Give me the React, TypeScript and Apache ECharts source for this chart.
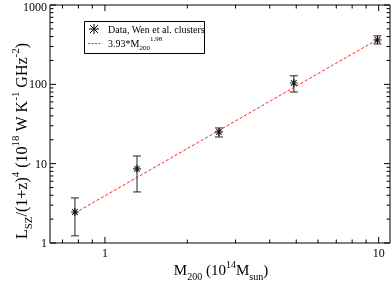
import React, { useEffect, useRef } from "react";
import * as echarts from "echarts";

// ---- data ----
const mass = [0.777, 1.31, 2.61, 4.9, 9.9];
const lsz = [2.46, 8.6, 25.1, 104, 363];
const errLow = [1.23, 4.4, 21.7, 80, 323];
const errHigh = [3.7, 12.5, 28.2, 128, 408];

const fitX = [0.777, 9.9];
const fitY = [2.39, 367];

const xMajorTicks = [1, 10];
const xMinorTicks = [0.7, 0.8, 0.9, 2, 3, 4, 5, 6, 7, 8, 9];
const yMajorTicks = [1, 10, 100, 1000];
const yMinorTicks = [2, 3, 4, 5, 6, 7, 8, 9, 20, 30, 40, 50, 60, 70, 80, 90, 200, 300, 400, 500, 600, 700, 800, 900];

const X_MIN = 0.63;
const X_MAX = 11;
const Y_MIN = 1;
const Y_MAX = 1000;

const FONT = "Liberation Serif";

const asteriskPath = "path://M0,5L10,5M5,0L5,10M1.5,1.5L8.5,8.5M1.5,8.5L8.5,1.5";

export default function App() {
  const ref = useRef<HTMLDivElement>(null);

  useEffect(() => {
    if (!ref.current) return;
    const chart = echarts.init(ref.current, undefined, { renderer: "svg" });

    const xTickData = [
      ...xMajorTicks.map((v) => [v, Y_MIN, 1]),
      ...xMinorTicks.map((v) => [v, Y_MIN, 0]),
    ];
    const yTickData = [
      ...yMajorTicks.map((v) => [X_MIN, v, 1]),
      ...yMinorTicks.map((v) => [X_MIN, v, 0]),
    ];

    const tickStyle = { stroke: "#000", lineWidth: 1 };

    const option: any = {
      animation: false,
      grid: {
        left: 50,
        right: 2,
        top: 5,
        bottom: 39,
        show: true,
        borderColor: "#000",
        borderWidth: 1,
        backgroundColor: "transparent",
      },
      xAxis: {
        type: "log",
        logBase: 10,
        min: X_MIN,
        max: X_MAX,
        axisLine: { show: false },
        axisTick: { show: false },
        axisLabel: { show: false },
        splitLine: { show: false },
      },
      yAxis: {
        type: "log",
        logBase: 10,
        min: Y_MIN,
        max: Y_MAX,
        axisLine: { show: false },
        axisTick: { show: false },
        axisLabel: { show: false },
        splitLine: { show: false },
      },
      graphic: [
        {
          type: "rect",
          shape: { x: 84.5, y: 21.5, width: 120, height: 32 },
          style: { fill: "#fff", stroke: "#000", lineWidth: 1 },
          z: 100,
        },
        {
          type: "polyline",
          shape: { points: [[90, 25], [98, 33]] },
          style: { stroke: "#000", lineWidth: 1 },
          z: 101,
        },
        {
          type: "polyline",
          shape: { points: [[90, 33], [98, 25]] },
          style: { stroke: "#000", lineWidth: 1 },
          z: 101,
        },
        {
          type: "polyline",
          shape: { points: [[89, 29], [99, 29]] },
          style: { stroke: "#000", lineWidth: 1 },
          z: 101,
        },
        {
          type: "polyline",
          shape: { points: [[94, 24], [94, 34]] },
          style: { stroke: "#000", lineWidth: 1 },
          z: 101,
        },
        {
          type: "text",
          x: 108,
          y: 29,
          style: {
            text: "Data, Wen et al. clusters",
            font: `10px "${FONT}"`,
            fill: "#000",
            verticalAlign: "middle",
            align: "left",
          },
          z: 101,
        },
        {
          type: "line",
          shape: { x1: 88, y1: 43.5, x2: 101, y2: 43.5 },
          style: { stroke: "#ff2020", lineWidth: 1, lineDash: [2, 1.5] },
          z: 101,
        },
        {
          type: "text",
          x: 108,
          y: 43,
          style: {
            text: "{n|3.93*M}{sub|200}{sup|1.98}",
            fill: "#000",
            verticalAlign: "middle",
            align: "left",
            rich: {
              n: { fontFamily: FONT, fontSize: 10, lineHeight: 16, verticalAlign: "middle" },
              sub: { fontFamily: FONT, fontSize: 7, lineHeight: 8, verticalAlign: "bottom" },
              sup: { fontFamily: FONT, fontSize: 7, lineHeight: 8, verticalAlign: "top" },
            },
          },
          z: 101,
        },
        {
          type: "text",
          x: 221,
          y: 270,
          style: {
            text: "{n|M}{sub|200}{n| (10}{sup|14}{n|M}{sub|sun}{n|)}",
            fill: "#000",
            align: "center",
            verticalAlign: "middle",
            rich: {
              n: { fontFamily: FONT, fontSize: 15, lineHeight: 22, verticalAlign: "middle" },
              sub: { fontFamily: FONT, fontSize: 10, lineHeight: 10, verticalAlign: "bottom" },
              sup: { fontFamily: FONT, fontSize: 10, lineHeight: 10, verticalAlign: "top" },
            },
          },
        },
        {
          type: "text",
          x: 21,
          y: 141,
          rotation: Math.PI / 2,
          style: {
            text: "{n|L}{sub|SZ}{n|/(1+z)}{sup|4}{n| (10}{sup|18}{n| W K}{sup|-1}{n| GHz}{sup|-2}{n|)}",
            fill: "#000",
            align: "center",
            verticalAlign: "middle",
            rich: {
              n: { fontFamily: FONT, fontSize: 16, lineHeight: 24, verticalAlign: "middle" },
              sub: { fontFamily: FONT, fontSize: 11, lineHeight: 11, verticalAlign: "bottom" },
              sup: { fontFamily: FONT, fontSize: 11, lineHeight: 11, verticalAlign: "top" },
            },
          },
        },
      ],
      series: [
        {
          name: "fit",
          type: "line",
          data: fitX.map((x, i) => [x, fitY[i]]),
          symbol: "none",
          lineStyle: { color: "#ff2020", width: 1, type: [3, 2] },
          z: 2,
          silent: true,
        },
        {
          name: "errors",
          type: "custom",
          data: mass.map((m, i) => [m, errLow[i], errHigh[i]]),
          renderItem: (params: any, api: any) => {
            const lo = api.coord([api.value(0), api.value(1)]);
            const hi = api.coord([api.value(0), api.value(2)]);
            const cap = 4;
            const st = { stroke: "#222", lineWidth: 1 };
            return {
              type: "group",
              children: [
                { type: "line", shape: { x1: lo[0], y1: lo[1], x2: hi[0], y2: hi[1] }, style: st },
                { type: "line", shape: { x1: lo[0] - cap, y1: lo[1], x2: lo[0] + cap, y2: lo[1] }, style: st },
                { type: "line", shape: { x1: hi[0] - cap, y1: hi[1], x2: hi[0] + cap, y2: hi[1] }, style: st },
              ],
            };
          },
          z: 3,
          silent: true,
        },
        {
          name: "data",
          type: "scatter",
          data: mass.map((m, i) => [m, lsz[i]]),
          symbol: asteriskPath,
          symbolSize: 8,
          itemStyle: { color: "transparent", borderColor: "#000", borderWidth: 1.2 },
          z: 4,
          silent: true,
        },
        {
          name: "xticks",
          type: "custom",
          data: xTickData,
          clip: false,
          silent: true,
          z: 5,
          renderItem: (params: any, api: any) => {
            const v = api.value(0);
            const major = api.value(2) === 1;
            const p = api.coord([v, api.value(1)]);
            const cs = params.coordSys;
            const bottom = cs.y + cs.height;
            const top = cs.y;
            const len = major ? 6 : 3.5;
            const children: any[] = [
              { type: "line", shape: { x1: p[0], y1: bottom, x2: p[0], y2: bottom - len }, style: tickStyle },
              { type: "line", shape: { x1: p[0], y1: top, x2: p[0], y2: top + len }, style: tickStyle },
            ];
            if (major) {
              children.push({
                type: "text",
                x: p[0],
                y: bottom + 4,
                style: {
                  text: String(v),
                  font: `12px "${FONT}"`,
                  fill: "#000",
                  align: "center",
                  verticalAlign: "top",
                },
              });
            }
            return { type: "group", children };
          },
        },
        {
          name: "yticks",
          type: "custom",
          data: yTickData,
          clip: false,
          silent: true,
          z: 5,
          renderItem: (params: any, api: any) => {
            const v = api.value(1);
            const major = api.value(2) === 1;
            const p = api.coord([api.value(0), v]);
            const cs = params.coordSys;
            const left = cs.x;
            const right = cs.x + cs.width;
            const len = major ? 6 : 3.5;
            const children: any[] = [
              { type: "line", shape: { x1: left, y1: p[1], x2: left + len, y2: p[1] }, style: tickStyle },
              { type: "line", shape: { x1: right, y1: p[1], x2: right - len, y2: p[1] }, style: tickStyle },
            ];
            if (major) {
              children.push({
                type: "text",
                x: left - 3,
                y: Math.max(p[1], 7),
                style: {
                  text: String(v),
                  font: `12px "${FONT}"`,
                  fill: "#000",
                  align: "right",
                  verticalAlign: "middle",
                },
              });
            }
            return { type: "group", children };
          },
        },
      ],
    };

    chart.setOption(option);
    return () => chart.dispose();
  }, []);

  return (
    <div
      ref={ref}
      style={{ position: "fixed", left: 0, top: 0, width: 392, height: 282 }}
    />
  );
}
